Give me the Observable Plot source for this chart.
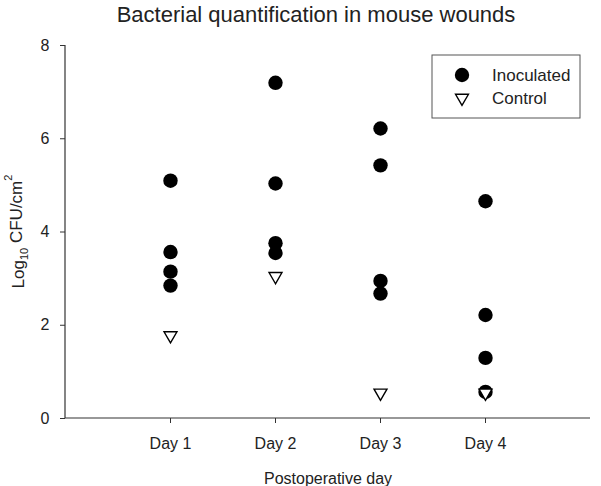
<!DOCTYPE html>
<html><head><meta charset="utf-8">
<script src="https://cdn.jsdelivr.net/npm/d3@7"></script>
<script src="https://cdn.jsdelivr.net/npm/@observablehq/plot@0.6"></script>
<style>body{margin:0;background:#fff}</style>
</head><body><div id="chart"></div>
<script>
const days = ["Day 1", "Day 2", "Day 3", "Day 4"];
const inoculated = [
  [5.10, 3.57, 3.15, 2.85],
  [7.20, 5.04, 3.76, 3.55],
  [6.22, 5.43, 2.95, 2.68],
  [4.66, 2.22, 1.30, 0.57]
];
const control = [1.78, 3.05, 0.55, 0.55];
const yTicks = [0, 2, 4, 6, 8];
const seriesNames = ["Inoculated", "Control"];
const title = "Bacterial quantification in mouse wounds";
const xLabel = "Postoperative day";
const yLabelParts = [["Log", "base"], ["10", "sub"], [" CFU/cm", "base"], ["2", "super"]];

const inocData = days.flatMap((d, i) => inoculated[i].map(v => ({day: d, value: v})));
const ctrlData = days.map((d, i) => ({day: d, value: control[i]}));

const triangleDown = {
  draw(ctx, size) {
    const y = Math.sqrt(size / (Math.sqrt(3) * 3));
    ctx.moveTo(0, 2 * y);
    ctx.lineTo(-Math.sqrt(3) * y, -y);
    ctx.lineTo(Math.sqrt(3) * y, -y);
    ctx.closePath();
  }
};

const font = "Liberation Sans, Arial, Helvetica, sans-serif";
const triR = 4.8, dotR = 7.2;

function axesAndLegend(index, scales, values, dim) {
  const g = d3.create("svg:g");
  const L = dim.marginLeft, R = dim.width - dim.marginRight;
  const T = dim.marginTop, B = dim.height - dim.marginBottom;
  g.append("line").attr("x1", L).attr("x2", L).attr("y1", T).attr("y2", B)
    .attr("stroke", "#333").attr("stroke-width", 1.2);
  g.append("line").attr("x1", L).attr("x2", R).attr("y1", B).attr("y2", B)
    .attr("stroke", "#333").attr("stroke-width", 1.2);
  // y axis label with sub/superscripts
  const yl = g.append("text")
    .attr("transform", `translate(${L - 47},${(T + B) / 2}) rotate(-90)`)
    .attr("text-anchor", "middle").attr("dy", "0.35em")
    .attr("font-size", 17).attr("font-family", font).attr("fill", "#222");
  yLabelParts.forEach(([t, kind]) => {
    const ts = yl.append("tspan").text(t);
    if (kind === "sub") ts.attr("font-size", 11).attr("dy", "0.35em");
    if (kind === "super") ts.attr("font-size", 11).attr("dy", "-0.9em");
    if (kind === "base" && t !== "Log") ts.attr("dy", "-0.35em");
  });
  // legend
  const bw = 148, bh = 63;
  const bx = R - 158, by = T + 10;
  g.append("rect").attr("x", bx).attr("y", by).attr("width", bw).attr("height", bh)
    .attr("fill", "white").attr("stroke", "#555").attr("stroke-width", 1);
  seriesNames.forEach((name, i) => {
    const cy = by + 20 + i * 23;
    const cx = bx + 30;
    if (i === 0) {
      g.append("circle").attr("cx", cx).attr("cy", cy).attr("r", dotR).attr("fill", "black");
    } else {
      g.append("path").attr("transform", `translate(${cx},${cy})`)
        .attr("d", d3.symbol(triangleDown, triR * triR * Math.PI)())
        .attr("fill", "white").attr("stroke", "black").attr("stroke-width", 1.4);
    }
    g.append("text").attr("x", bx + 60).attr("y", cy).attr("dy", "0.35em")
      .attr("text-anchor", "start")
      .attr("font-size", 17).attr("font-family", font).attr("fill", "#222").text(name);
  });
  return g.node();
}

const chart = Plot.plot({
  width: 601,
  height: 486,
  marginLeft: 65,
  marginRight: 11,
  marginTop: 45,
  marginBottom: 68,
  style: {fontFamily: font, fontSize: "16px", color: "#222", background: "white"},
  x: {type: "point", domain: days, padding: 1},
  y: {domain: [0, 8]},
  marks: [
    Plot.axisY({ticks: yTicks, tickSize: 5, tickPadding: 11, label: null, fontSize: 16, stroke: "#333"}),
    Plot.axisX({tickSize: 5, tickPadding: 14, label: xLabel, labelAnchor: "center",
      labelArrow: "none", labelOffset: 65, fontSize: 16, stroke: "#333"}),
    axesAndLegend,
    Plot.dot(inocData, {x: "day", y: "value", r: dotR, fill: "black", stroke: "none"}),
    Plot.dot(ctrlData, {x: "day", y: "value", r: triR, symbol: triangleDown, fill: "white", stroke: "black", strokeWidth: 1.4}),
    Plot.text([title], {frameAnchor: "top", dy: -31, dx: -12, lineAnchor: "middle", fontSize: 22, fill: "#222"})
  ]
});
document.getElementById("chart").append(chart);
</script>
</body></html>
